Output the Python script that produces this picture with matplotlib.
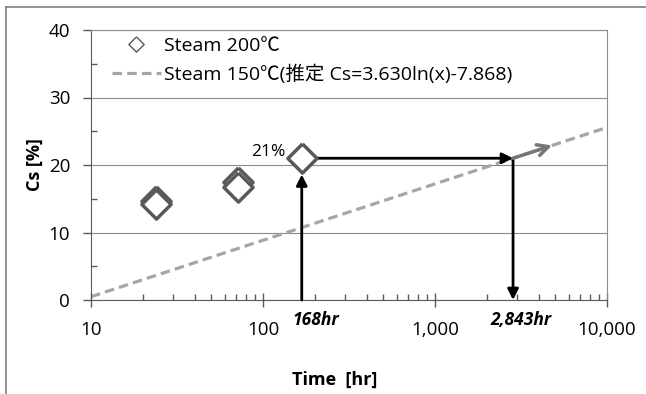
import numpy as np
import matplotlib
matplotlib.use("Agg")
import matplotlib.pyplot as plt
from matplotlib.lines import Line2D
from matplotlib.ticker import FixedLocator, NullFormatter, LogLocator

plt.rcParams['font.family'] = ['Open Sans', 'Noto Sans CJK JP', 'DejaVu Sans']

# data
hours_200 = [24, 24, 72, 72, 168]
cs_200 = [14.7, 14.2, 17.5, 16.8, 21.0]
fit_a, fit_b = 3.630, -7.868
fit_x = np.array([10, 10000])
t_measured = 168
t_predicted = 2843
cs_target = 21
x_ticks = [10, 100, 1000, 10000]
x_tick_labels = ['10', '100', '1,000', '10,000']
y_ticks = [0, 10, 20, 30, 40]

W, H = 646, 394
fig = plt.figure(figsize=(W/100, H/100), dpi=100)
ax = fig.add_axes([91/W, (H-300)/H, 516/W, 270/H])

xs = np.logspace(np.log10(fit_x[0]), np.log10(fit_x[1]), 200)
fit_line, = ax.plot(xs, fit_a*np.log(xs)+fit_b, color='#A6A6A6', lw=2.3,
                    linestyle=(0, (3, 1.6)), zorder=2)

diamond = [(0, 1), (1, 0), (0, -1), (-1, 0), (0, 1)]
ax.plot(hours_200, cs_200, linestyle='none', marker=diamond, ms=21,
        mfc='white', mec='#595959', mew=2.5, zorder=5)

ax.set_xscale('log')
ax.set_xlim(10, 10000)
ax.set_ylim(0, 40)

# arrows
black = dict(arrowstyle='-|>', lw=2, color='black', mutation_scale=16,
             shrinkA=0, shrinkB=0)
ax.annotate('', xy=(t_measured, 18.6), xytext=(t_measured, 0), arrowprops=black, zorder=4)
ax.annotate('', xy=(t_predicted, cs_target), xytext=(t_measured*1.2, cs_target), arrowprops=black, zorder=4)
ax.annotate('', xy=(t_predicted, 0), xytext=(t_predicted, cs_target), arrowprops=black, zorder=4)
x_end = 4800
ax.annotate('', xy=(x_end, fit_a*np.log(x_end)+fit_b), xytext=(t_predicted, cs_target),
            arrowprops=dict(arrowstyle='->', lw=2.5, color='#767676', mutation_scale=20,
                            shrinkA=0, shrinkB=0), zorder=4)

ax.annotate('21%', xy=(t_measured, cs_target), xytext=(-16, 6), textcoords='offset pixels',
            fontsize=12.5, ha='right', va='center')
ax.annotate('168hr', xy=(t_measured, 0), xytext=(14, -20), textcoords='offset pixels',
            ha='center', va='center', fontsize=12.5, fontweight='bold', fontstyle='italic')
ax.annotate('2,843hr', xy=(t_predicted, 0), xytext=(8, -20), textcoords='offset pixels',
            ha='center', va='center', fontsize=12.5, fontweight='bold', fontstyle='italic')

# ticks
ax.xaxis.set_major_locator(FixedLocator(x_ticks))
ax.set_xticklabels(x_tick_labels)
ax.xaxis.set_minor_locator(LogLocator(base=10, subs=np.arange(2, 10)))
ax.xaxis.set_minor_formatter(NullFormatter())
ax.set_yticks(y_ticks)
ax.set_yticks([5, 15, 25, 35], minor=True)
ax.tick_params(axis='x', which='major', direction='inout', length=10, width=1,
               color='#595959', labelsize=13.5, pad=10)
ax.tick_params(axis='x', which='minor', direction='in', length=4, width=1, color='#595959')
ax.tick_params(axis='y', which='major', direction='out', length=6, width=1,
               color='#595959', labelsize=13.5, pad=9)
ax.tick_params(axis='y', which='minor', direction='in', length=4, width=1, color='#595959')

ax.grid(axis='y', which='major', color='#8C8C8C', lw=0.8)
ax.set_axisbelow(True)
for s in ['left', 'bottom']:
    ax.spines[s].set_color('#595959')
for s in ['top', 'right']:
    ax.spines[s].set_color('#8C8C8C')

ax.set_ylabel('Cs [%]', fontsize=13, fontweight='bold')
ax.yaxis.set_label_coords((35-91)/516, 0.5)
ax.yaxis.label.set_va('center')
ax.set_xlabel('Time  [hr]', fontsize=13, fontweight='bold')
ax.xaxis.set_label_coords((335-91)/516, (300-380)/270)
ax.xaxis.label.set_va('center')

# legend (small thin diamond as in the original)
h_pts = Line2D([], [], linestyle='none', marker=diamond, ms=11, mfc='white',
               mec='#595959', mew=1)
h_fit = Line2D([], [], color='#A6A6A6', lw=2.3, linestyle=(0, (3, 1.6)))
leg = ax.legend(handles=[h_pts, h_fit],
                labels=['Steam 200℃', 'Steam 150℃(推定 Cs=3.630ln(x)-7.868)'],
                loc='upper left',
                bbox_to_anchor=((112-91)/516, 1-(37-30)/270), frameon=False,
                fontsize=14, handlelength=2.5, handletextpad=0.2, borderpad=0,
                borderaxespad=0, labelspacing=0.5)

# outer frame
fig.add_artist(Line2D([6/W, 1], [1-7/H, 1-7/H], color='#7F7F7F', lw=1.2))
fig.add_artist(Line2D([6/W, 6/W], [0, 1-7/H], color='#7F7F7F', lw=1.2))

fig.savefig('out.png', dpi=100)
